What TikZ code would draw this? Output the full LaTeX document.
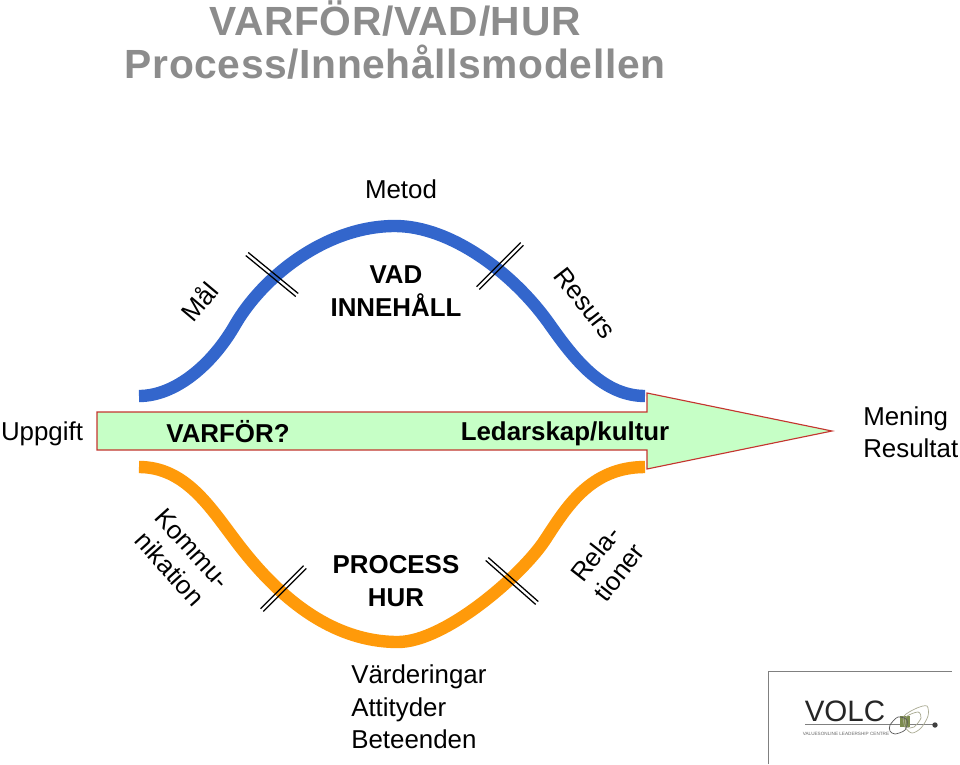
\documentclass[tikz,border=0pt]{standalone}
\usepackage{fontspec}
\setmainfont{Liberation Sans}
\usepackage{tikz}
\usetikzlibrary{calc}
\definecolor{titlegray}{HTML}{8C8C8C}
\definecolor{bandblue}{HTML}{3366CC}
\definecolor{bandorange}{HTML}{FF9A0A}
\definecolor{arrowfill}{HTML}{C6FFC6}
\definecolor{arrowline}{HTML}{C4352F}
\definecolor{logogreen}{HTML}{7C8B4E}
\definecolor{logoline}{HTML}{A9AA92}
\tikzset{
  lbl/.style={font=\fontsize{18.4}{23}\selectfont, inner sep=0pt},
  lblb/.style={font=\fontsize{18.4}{23}\selectfont\bfseries, inner sep=0pt, align=center},
  band/.style={line width=8.8pt},
  tick/.style={line width=0.9pt, black},
}
\begin{document}
\begin{tikzpicture}[x=0.025cm, y=-0.025cm]
\useasboundingbox (0,0) rectangle (960,764);
\node[font=\fontsize{29}{30}\selectfont\bfseries\addfontfeature{LetterSpace=1.5}, text=titlegray, align=center, inner sep=0pt] (title) at (395,40) {VARFÖR/VAD/HUR\\Process/Innehållsmodellen};
\node[lbl] (metod) at (401,189) {Metod};
\draw[band, bandblue] (139,396) .. controls (175,396) and (212,365) .. (235,325) .. controls (262,278) and (325,226) .. (395,226) .. controls (450,226) and (512,272) .. (548,322) .. controls (570,353) and (600,396) .. (645,396);
\draw[band, bandorange] (139,467) .. controls (185,467) and (210,507) .. (235,540) .. controls (265,580) and (320,642) .. (398,642) .. controls (445,642) and (522,575) .. (545,540) .. controls (566,508) and (590,467) .. (645,467);
\foreach \xa/\ya/\xb/\yb in {247/254/297/295, 478/288/522/244, 262/610/305/567, 487/559/537/603} {
  \foreach \off in {-1.4,1.4}
    \draw[tick] ($(\xa,\ya)!\off pt!90:(\xb,\yb)$) -- ($(\xb,\yb)!\off pt!-90:(\xa,\ya)$);
}
\node[lbl, rotate=50] (mal) at (199,301) {Mål};
\node[lblb] (vad) at (396,291) {VAD\\INNEHÅLL};
\node[lbl, rotate=-52] (resurs) at (585,303) {Resurs};
\filldraw[fill=arrowfill, draw=arrowline, line width=0.8pt] (97,412) -- (647,412) -- (647,393) -- (832,431) -- (647,469) -- (647,450) -- (97,450) -- cycle;
\node[lbl] (uppgift) at (42,434) {Uppgift};
\node[lblb] (varfor) at (228,432) {VARFÖR?};
\node[lblb] (ledarskap) at (565,434) {Ledarskap/kultur};
\node[lbl, anchor=west, align=left] (mening) at (863,432) {Mening\\Resultat};
\node[lbl, rotate=-48, align=center] (kommu) at (181,559) {Kommu-\\[-1.5pt]nikation};
\node[lblb] (process) at (396,581) {PROCESS\\HUR};
\node[lbl, rotate=52, align=center] (rela) at (607,563) {Rela-\\[-1.5pt]tioner};
\node[lbl, anchor=west, align=left] (varde) at (351,707) {Värderingar\\Attityder\\Beteenden};
% logo
\draw[gray, line width=0.7pt] (768,764) -- (768,671) -- (952,671);
\node[font=\fontsize{21}{21}\selectfont, text=black!85, inner sep=0pt] (volc) at (845,711) {VOLC};
\draw[gray, line width=0.6pt] (805,724.5) -- (935,724.5);
\fill[black!75] (935,725) circle (2.7);
\node[font=\fontsize{3.3}{3}\selectfont, text=black!60, inner sep=0pt] (centre) at (846,734) {VALUESONLINE LEADERSHIP CENTRE};
\fill[logogreen] (900,716) rectangle (910,727);
\draw[logoline, line width=0.5pt] plot[smooth cycle] coordinates {(904,716) (917,708) (927,706) (928,716) (921,728) (912,733) (905,727)};
\draw[logoline, line width=0.5pt] plot[smooth cycle] coordinates {(906,717) (918,712) (921,718) (914,727) (907,727)};
\draw[black!65, line width=0.5pt] plot[smooth cycle] coordinates {(890,725) (898,717) (907,720) (905,730) (895,734) (890,731)};
\end{tikzpicture}
\end{document}
